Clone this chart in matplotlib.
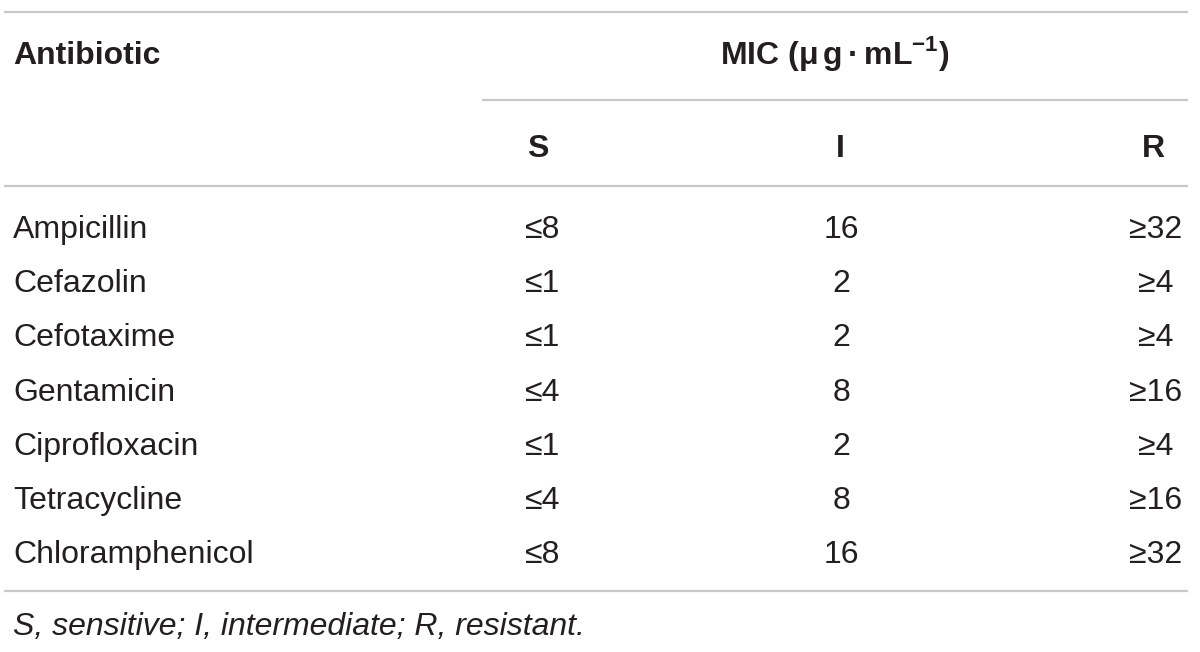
import matplotlib
matplotlib.use("Agg")
import matplotlib.pyplot as plt

plt.rcParams['font.family'] = ['Liberation Sans', 'DejaVu Sans']
plt.rcParams['mathtext.fontset'] = 'custom'
plt.rcParams['mathtext.rm'] = 'Liberation Sans'
plt.rcParams['mathtext.bf'] = 'Liberation Sans:bold'

# table content
antibiotics = ["Ampicillin", "Cefazolin", "Cefotaxime", "Gentamicin",
               "Ciprofloxacin", "Tetracycline", "Chloramphenicol"]
mic_s = ["≤8", "≤1", "≤1", "≤4", "≤1", "≤4", "≤8"]
mic_i = ["16", "2", "2", "8", "2", "8", "16"]
mic_r = ["≥32", "≥4", "≥4", "≥16", "≥4", "≥16", "≥32"]
col_labels = ["S", "I", "R"]
footnote = "S, sensitive; I, intermediate; R, resistant."

W, H = 1200, 652
fig = plt.figure(figsize=(W / 100, H / 100), dpi=100)
ax = fig.add_axes([0, 0, 1, 1])
ax.set_xlim(0, W)
ax.set_ylim(H, 0)
ax.axis('off')

fs = 23
line_col = '#c8c8c8'
txt_col = '#231f20'

# rules
ax.plot([5, 1187], [12, 12], color=line_col, lw=1.6)
ax.plot([483, 1187], [100, 100], color=line_col, lw=1.6)
ax.plot([5, 1187], [186, 186], color=line_col, lw=1.6)
ax.plot([5, 1187], [591, 591], color=line_col, lw=1.6)

# header
ax.text(13, 64, "Antibiotic", fontsize=fs, fontweight='bold', color=txt_col,
        ha='left', va='baseline')
ax.text(835, 64, r"MIC ($\mathbf{\mu}\,$g$\,$·$\,$mL$^{\mathbf{-1}}$)", fontsize=fs,
        fontweight='bold', color=txt_col, ha='center', va='baseline')
col_x = [538, 840, 1153]
for x, lab in zip(col_x, col_labels):
    ax.text(x, 157, lab, fontsize=fs, fontweight='bold', color=txt_col,
            ha='center', va='baseline')

# body rows
row_y0, row_dy = 238, 54.17
for k, name in enumerate(antibiotics):
    y = row_y0 + k * row_dy
    ax.text(13, y, name, fontsize=fs, color=txt_col, ha='left', va='baseline')
    ax.text(542, y, mic_s[k], fontsize=fs, color=txt_col, ha='center', va='baseline')
    ax.text(841, y, mic_i[k], fontsize=fs, color=txt_col, ha='center', va='baseline')
    ax.text(1156, y, mic_r[k], fontsize=fs, color=txt_col, ha='center', va='baseline')

ax.text(13, 635, footnote, fontsize=fs, style='italic', color=txt_col,
        ha='left', va='baseline')

fig.savefig("out.png", dpi=100)
